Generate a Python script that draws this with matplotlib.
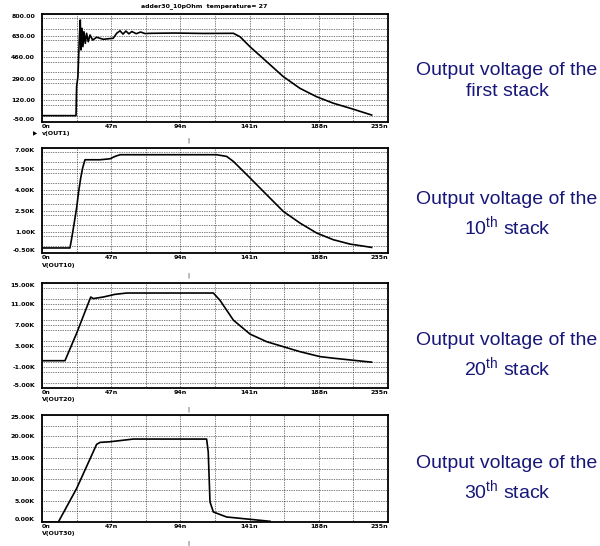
import matplotlib
matplotlib.use('Agg')
import matplotlib.pyplot as plt
from matplotlib.ticker import MultipleLocator, FixedLocator

plt.rcParams['mathtext.fontset'] = 'custom'
plt.rcParams['mathtext.rm'] = 'Liberation Sans'

# time axis (ns) shared by all panels
x_ticks = [0, 47, 94, 141, 188, 235]
x_labels = ['0n', '47n', '94n', '141n', '188n', '235n']

# v(OUT1), volts
t1 = [0, 23.1, 23.5, 24.4, 25.3, 26.0, 26.5, 27.2, 27.8, 28.5, 29.4, 30.3, 31.4, 32.6,
      34.4, 37.1, 41.6, 48.4, 50.7, 53, 55, 57, 59, 61, 64, 67, 70, 73.4, 90, 110, 130,
      134.5, 141.3, 152.6, 163.9, 175.2, 186.5, 197.8, 209.1, 223.9]
v1 = [0, 0, 228, 307, 595, 753, 517, 687, 543, 661, 569, 648, 582, 635,
      595, 617, 601, 609, 648, 668, 642, 666, 644, 662, 645, 658, 646, 648, 650, 647, 648,
      621, 542, 425, 307, 215, 149, 98, 59, 5]
y1_ticks = [-50, 120, 290, 460, 630, 800]
y1_labels = ['-50.00', '120.00', '290.00', '460.00', '630.00', '800.00']

# V(OUT10), kV
t2 = [0, 19.0, 20.2, 21.7, 23.5, 24.9, 26.3, 27.6, 29.2, 39.4, 46.2, 49.6, 53.0, 118.6,
      125.4, 130, 141.3, 152.6, 163.9, 175.2, 186.5, 197.8, 209.1, 223.9]
v2 = [-0.14, -0.14, 0.57, 1.52, 2.71, 3.9, 4.86, 5.57, 6.16, 6.16, 6.23, 6.40, 6.52, 6.52,
      6.40, 6.04, 4.86, 3.66, 2.47, 1.64, 0.93, 0.45, 0.14, -0.1]
y2_ticks = [-0.5, 1.0, 2.5, 4.0, 5.5, 7.0]
y2_labels = ['-0.50K', '1.00K', '2.50K', '4.00K', '5.50K', '7.00K']

# V(OUT20), kV
t3 = [0, 15.6, 23.5, 33.1, 34.8, 41.6, 49.6, 57.5, 116.4, 120.9, 130, 141.3, 152.6,
      163.9, 175.2, 188.8, 197.8, 209.1, 223.9]
v3 = [0.2, 0.2, 5.41, 12.33, 12.03, 12.33, 12.84, 13.09, 13.09, 11.7, 7.92, 5.27, 3.82,
      2.87, 1.92, 0.98, 0.68, 0.35, -0.08]
y3_ticks = [-5, -1, 3, 7, 11, 15]
y3_labels = ['-5.00K', '-1.00K', '3.00K', '7.00K', '11.00K', '15.00K']

# V(OUT30), kV
t4 = [0, 11.1, 23.5, 37.1, 39.4, 46.2, 62, 111.8, 112.9, 114.1, 116.4, 125.4, 141.3, 154.9]
v4 = [0, 0, 7.82, 18.14, 18.6, 18.75, 19.38, 19.38, 16.4, 4.69, 2.34, 1.17, 0.63, 0.16]
y4_ticks = [0, 5, 10, 15, 20, 25]
y4_labels = ['0.00K', '5.00K', '10.00K', '15.00K', '20.00K', '25.00K']

names = ['v(OUT1)', 'V(OUT10)', 'V(OUT20)', 'V(OUT30)']
captions = ['Output voltage of the\nfirst stack',
            'Output voltage of the\n10$^{\\mathrm{th}}$ stack',
            'Output voltage of the\n20$^{\\mathrm{th}}$ stack',
            'Output voltage of the\n30$^{\\mathrm{th}}$ stack']

W, H = 600, 546
fig = plt.figure(figsize=(6, 5.46), dpi=100)

# box positions in pixels: (top, bottom)
boxes = [(14, 122), (148, 253), (283, 388), (415, 522)]
caption_y = [81, 215, 356, 479]
mark_y = [140, 275, 409, 543]
series = [(t1, v1, y1_ticks, y1_labels), (t2, v2, y2_ticks, y2_labels),
          (t3, v3, y3_ticks, y3_labels), (t4, v4, y4_ticks, y4_labels)]

tick_font = dict(fontsize=4.5, fontweight='bold', family='DejaVu Sans')

for i, (t, v, yt, yl) in enumerate(series):
    top, bot = boxes[i]
    ax = fig.add_axes([42 / W, 1 - bot / H, 346 / W, (bot - top) / H])
    ax.plot(t, v, color='black', linewidth=1.2)
    ax.set_xlim(0, 235)
    ax.set_ylim(yt[0], yt[-1])
    # 10 divisions each way, labels every second line
    ax.xaxis.set_major_locator(FixedLocator(x_ticks))
    ax.xaxis.set_minor_locator(MultipleLocator(23.5))
    ax.yaxis.set_major_locator(FixedLocator(yt))
    ax.yaxis.set_minor_locator(MultipleLocator((yt[1] - yt[0]) / 2))
    ax.set_xticklabels(x_labels, **tick_font)
    ax.set_yticklabels(yl, **tick_font)
    ax.tick_params(axis='y', which='both', length=0, pad=5)
    ax.tick_params(axis='x', which='both', length=0, pad=1.5)
    ax.grid(which='both', color='black', linestyle=(0, (1, 1.5)), linewidth=0.5)
    for sp in ax.spines.values():
        sp.set_linewidth(1.3)
    # edge labels pushed inside like the simulator does
    xl = ax.get_xticklabels()
    xl[0].set_horizontalalignment('left')
    xl[-1].set_horizontalalignment('right')
    ylb = ax.get_yticklabels()
    ylb[0].set_verticalalignment('bottom')
    ylb[-1].set_verticalalignment('top')

    fig.text(42 / W, 1 - (bot + 12) / H, names[i], fontsize=4.5, fontweight='bold',
             va='center', ha='left')
    fig.text(188 / W, 1 - mark_y[i] / H, '|', fontsize=4, va='center', ha='center')
    fig.text(507 / W, 1 - caption_y[i] / H, captions[i], fontsize=14,
             family='Liberation Sans', color='#17177a', ha='center', va='center',
             multialignment='center', linespacing=1.3)

fig.text(35 / W, 1 - 134 / H, '\u25b6', fontsize=4, va='center', ha='center')
fig.text(204 / W, 1 - 6 / H, 'adder30_10pOhm  temperature= 27', fontsize=4.5,
         fontweight='bold', ha='center', va='center')

fig.savefig('out.png', dpi=100)
